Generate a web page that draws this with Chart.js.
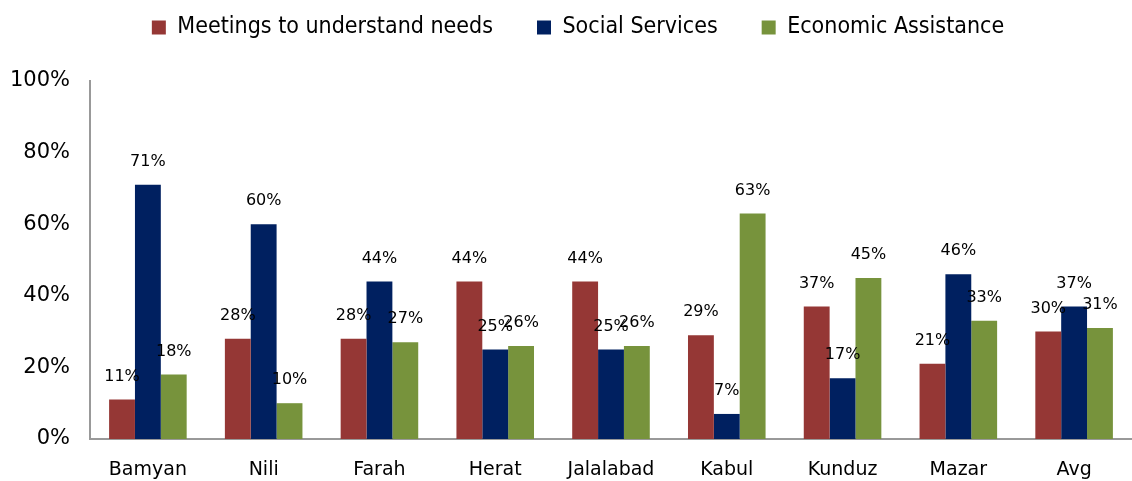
<!DOCTYPE html>
<html>
<head>
<meta charset="utf-8">
<script src="https://cdn.jsdelivr.net/npm/chart.js@4/dist/chart.umd.min.js"></script>
<style>
  html, body { margin: 0; padding: 0; background: #fff; }
  #wrap { width: 1132px; height: 481px; }
</style>
</head>
<body>
<div id="wrap"><canvas id="surveyChart"></canvas></div>
<script>
var cities = ['Bamyan', 'Nili', 'Farah', 'Herat', 'Jalalabad', 'Kabul', 'Kunduz', 'Mazar', 'Avg'];
var meetings = [11, 28, 28, 44, 44, 29, 37, 21, 30];
var socialServices = [71, 60, 44, 25, 25, 7, 17, 46, 37];
var economicAssistance = [18, 10, 27, 26, 26, 63, 45, 33, 31];

// labels above each bar
var barLabels = {
    id: 'barLabels',
    afterDatasetsDraw: function(chart) {
        var ctx = chart.ctx;
        ctx.save();
        ctx.font = '16px "DejaVu Sans"';
        ctx.fillStyle = '#000';
        ctx.textAlign = 'center';
        ctx.textBaseline = 'middle';
        chart.data.datasets.forEach(function(ds, i) {
            chart.getDatasetMeta(i).data.forEach(function(bar, j) {
                ctx.fillText(ds.data[j] + '%', bar.x, bar.y - 23);
            });
        });
        ctx.restore();
    }
};

// legend sits higher (and a bit right) of where the big item padding puts it
var liftLegend = {
    id: 'liftLegend',
    beforeDraw: function(chart) {
        var lg = chart.legend;
        if (!lg._lifted) {
            lg.top -= 32;
            lg.left += 12;
            lg.right += 12;
            lg._lifted = true;
        }
    },
    afterLayout: function(chart) {
        chart.legend._lifted = false;
    }
};

var ctx = document.getElementById('surveyChart').getContext('2d');
var surveyChart = new Chart(ctx, {
    type: 'bar',
    data: {
        labels: cities,
        datasets: [
            {
                label: 'Meetings to understand needs',
                data: meetings,
                backgroundColor: '#953735'
            },
            {
                label: 'Social Services',
                data: socialServices,
                backgroundColor: '#002060'
            },
            {
                label: 'Economic Assistance',
                data: economicAssistance,
                backgroundColor: '#77933C'
            }
        ]
    },
    options: {
        responsive: true,
        maintainAspectRatio: false,
        animation: false,
        layout: { padding: { top: 4, right: 0, left: 0, bottom: 0 } },
        datasets: {
            bar: { categoryPercentage: 0.67, barPercentage: 1 }
        },
        plugins: {
            legend: {
                position: 'top',
                labels: {
                    font: { family: '"DejaVu Sans Condensed", "DejaVu Sans"', size: 23 },
                    color: '#000',
                    boxWidth: 14,
                    boxHeight: 14,
                    padding: 44
                }
            },
            tooltip: { enabled: false }
        },
        scales: {
            x: {
                afterFit: function(scale) { scale.height = 42; },
                grid: { display: false },
                border: { color: '#999', width: 2 },
                ticks: {
                    font: { family: '"DejaVu Sans"', size: 19 },
                    color: '#000',
                    padding: 12
                }
            },
            y: {
                min: 0,
                max: 100,
                afterFit: function(scale) { scale.width = 90; },
                grid: { display: false },
                border: { color: '#999', width: 2 },
                ticks: {
                    stepSize: 20,
                    font: { family: '"DejaVu Sans"', size: 21 },
                    color: '#000',
                    padding: 12,
                    callback: function(v) { return v + '%'; }
                }
            }
        }
    },
    plugins: [barLabels, liftLegend]
});
</script>
</body>
</html>
